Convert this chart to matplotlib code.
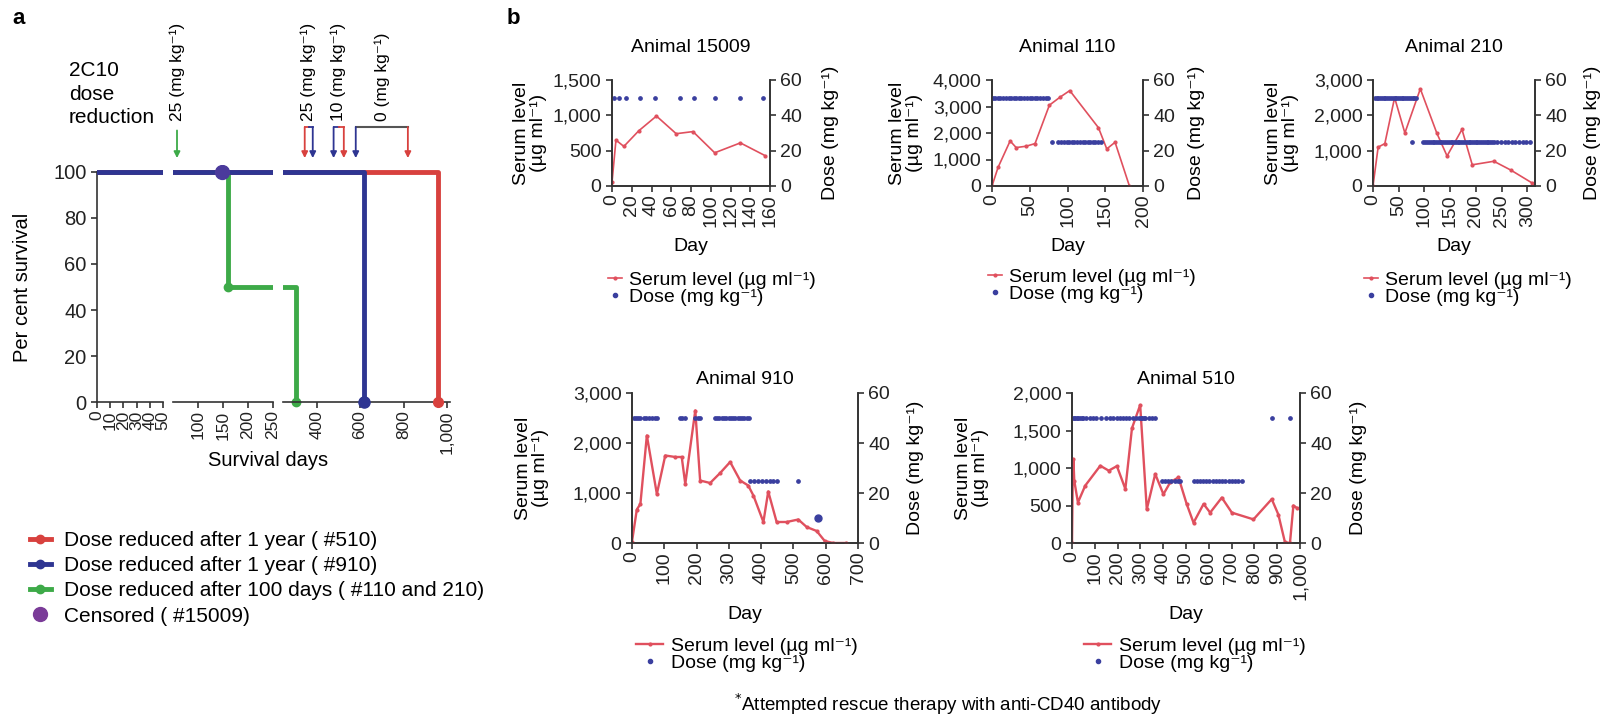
import matplotlib.pyplot as plt
import matplotlib.ticker as mticker
from matplotlib.lines import Line2D

plt.rcParams['font.family'] = ['Liberation Sans', 'DejaVu Sans']
plt.rcParams['font.size'] = 14
plt.rcParams['axes.linewidth'] = 1.2
plt.rcParams['xtick.major.width'] = 1.2
plt.rcParams['ytick.major.width'] = 1.2
plt.rcParams['xtick.major.size'] = 4
plt.rcParams['ytick.major.size'] = 4

RED = '#d8413e'
BLUE = '#2e3592'
GREEN = '#3daa48'
PURPLE = '#7a3b98'
GRAY = '#555555'
SERUM = '#e0505e'
DOSE = '#3a3f9f'
AXC = '#333333'

# ---- panel a: survival (Kaplan-Meier steps) ----
blue_t = [0, 620, 620]
blue_s = [100, 100, 0]
red_t = [0, 958, 958]
red_s = [100, 100, 0]
green_t = [0, 160, 160, 305, 305]
green_s = [100, 100, 50, 50, 0]
green_evt_t = [160, 305]
green_evt_s = [50, 0]
censor_t = [148]
censor_s = [100]

# ---- panel b: serum levels and doses ----
s15009_days = [0, 4, 12, 27, 45, 65, 82, 104, 130, 155]
s15009_vals = [50, 650, 560, 780, 990, 740, 770, 470, 610, 430]
d15009_50 = [2, 7, 14, 28, 44, 69, 83, 104, 130, 153]

s110_days = [0, 8, 24, 32, 45, 57, 76, 90, 103, 141, 152, 163, 182]
s110_vals = [0, 700, 1700, 1450, 1500, 1600, 3050, 3350, 3600, 2200, 1400, 1650, 0]
d110_50 = [1, 4, 8, 11, 15, 18, 22, 25, 29, 32, 36, 39, 43, 46, 50, 53, 57, 60,
           64, 67, 71, 74]
d110_25 = [80, 88, 92, 95, 99, 102, 106, 109, 113, 116, 120, 123, 127, 130, 134,
           137, 141, 144]

s210_days = [0, 10, 23, 42, 62, 92, 124, 144, 173, 193, 235, 268, 310]
s210_vals = [0, 1100, 1200, 2500, 1500, 2750, 1500, 850, 1600, 600, 700, 450, 80]
d210_50 = [3, 7, 10, 14, 17, 21, 24, 28, 31, 35, 38, 42, 45, 49, 52, 56, 59, 63,
           66, 70, 73, 77, 80, 84]
d210_25 = [75, 98, 102, 105, 109, 112, 116, 119, 123, 126, 130, 133, 137, 140,
           144, 147, 151, 154, 158, 161, 165, 168, 172, 175, 179, 182, 186, 189,
           193, 196, 200, 203, 207, 210, 214, 217, 221, 224, 228, 231, 235, 242,
           249, 256, 263, 270, 277, 284, 291, 298, 305]

s910_days = [0, 15, 26, 46, 77, 103, 134, 154, 165, 196, 211, 242, 273, 304, 335,
             360, 376, 407, 422, 448, 479, 515, 541, 572, 597, 623, 664]
s910_vals = [30, 670, 780, 2150, 980, 1750, 1720, 1720, 1180, 2650, 1250, 1200,
             1400, 1620, 1250, 1150, 950, 420, 1030, 420, 420, 470, 320, 240, 40,
             0, 0]
d910_50 = [5, 12, 19, 26, 36, 44, 52, 62, 70, 77, 149, 156, 165, 196, 203, 211,
           257, 264, 271, 278, 285, 292, 299, 306, 313, 320, 327, 334, 341, 348,
           355, 362]
d910_25 = [366, 378, 390, 402, 414, 426, 438, 448, 515]
d910_10 = [577]

s510_days = [0, 3, 6, 10, 26, 58, 124, 161, 197, 234, 263, 299, 328, 365, 401,
             431, 467, 503, 533, 577, 606, 657, 701, 796, 876, 905, 934, 956, 971,
             985]
s510_vals = [0, 820, 1120, 830, 540, 765, 1030, 965, 1025, 720, 1530, 1840, 450,
             920, 650, 810, 875, 520, 270, 520, 405, 605, 405, 315, 585, 380, 10,
             0, 500, 470]
d510_50 = [0, 7, 14, 21, 28, 35, 42, 49, 63, 77, 91, 105, 126, 147, 168, 182,
           196, 210, 224, 238, 252, 266, 280, 294, 301, 308, 315, 322, 336, 350,
           364, 876, 956]
d510_25 = [394, 408, 422, 436, 450, 464, 474, 533, 547, 561, 575, 589, 603, 617,
           631, 645, 659, 673, 687, 701, 715, 729, 745]

W, H = 1605, 718
fig = plt.figure(figsize=(W / 100, H / 100), dpi=100)


def px_axes(x0, y0, x1, y1):
    return fig.add_axes([x0 / W, 1 - y1 / H, (x1 - x0) / W, (y1 - y0) / H])


comma = mticker.FuncFormatter(lambda v, p: f"{int(v):,}")

# panel a, broken x axis in three pieces
segs = [
    (97, 163, (0, 50), [0, 10, 20, 30, 40, 50]),
    (173, 273, (50, 250), [100, 150, 200, 250]),
    (283, 450, (245, 1014), [400, 600, 800, 1000]),
]
seg_axes = []
for i, (x0, x1, xl, ticks) in enumerate(segs):
    ax = px_axes(x0, 165, x1, 409)
    ax.set_xlim(*xl)
    ax.set_ylim(-3, 103)
    ax.patch.set_alpha(0)
    for s in ['top', 'right']:
        ax.spines[s].set_visible(False)
    ax.spines['bottom'].set_position(('data', 0))
    ax.spines['bottom'].set_color(AXC)
    if i == 0:
        ax.spines['left'].set_bounds(0, 100)
        ax.spines['left'].set_color(AXC)
        ax.set_yticks([0, 20, 40, 60, 80, 100])
        ax.set_ylabel('Per cent survival', fontsize=14.5)
        ax.yaxis.set_label_coords((32 - 97) / 66, 0.5)
    else:
        ax.spines['left'].set_visible(False)
        ax.set_yticks([])
    ax.set_xticks(ticks)
    ax.xaxis.set_major_formatter(comma)
    ax.tick_params(axis='x', labelrotation=90, labelsize=12.5, pad=2)
    ax.tick_params(axis='y', labelsize=14.5)
    ax.tick_params(colors=AXC, labelcolor='#222222')

    ax.plot(green_t, green_s, color=GREEN, lw=3.5, zorder=2)
    ax.plot(green_evt_t, green_evt_s, 'o', color=GREEN, ms=6, zorder=2)
    ax.plot(red_t, red_s, color=RED, lw=3.5, zorder=3)
    ax.plot(red_t[-1:], red_s[-1:], 'o', color=RED, ms=7, zorder=3)
    ax.plot(blue_t, blue_s, color=BLUE, lw=3.5, zorder=4)
    ax.plot(blue_t[-1:], blue_s[-1:], 'o', color=BLUE, ms=8, zorder=4)
    ax.plot(censor_t, censor_s, 'o', color='#4b3a9c', ms=10, zorder=5)
    seg_axes.append(ax)

ax_b, ax_c = seg_axes[1], seg_axes[2]
arrow_kw = dict(arrowstyle='-|>', lw=1.3, mutation_scale=9, shrinkA=0, shrinkB=0)
note_kw = dict(rotation=90, ha='center', va='bottom', fontsize=12.5)

ax_b.annotate('', xy=(58, 106), xytext=(58, 118), annotation_clip=False,
              arrowprops=dict(color=GREEN, **arrow_kw))
ax_b.text(58, 122, '25 (mg kg⁻¹)', **note_kw)

brackets = [(345, RED, 382, BLUE, None, '25 (mg kg⁻¹)'),
            (478, BLUE, 525, RED, None, '10 (mg kg⁻¹)'),
            (580, BLUE, 820, RED, GRAY, '0 (mg kg⁻¹)')]
for xa, ca, xb, cb, bar, label in brackets:
    mid = (xa + xb) / 2
    for x, c in [(xa, ca), (xb, cb)]:
        ax_c.annotate('', xy=(x, 106), xytext=(x, 119.5), annotation_clip=False,
                      arrowprops=dict(color=c, **arrow_kw))
    if bar is None:
        ax_c.plot([xa, mid], [119.5, 119.5], color=ca, lw=1.3, clip_on=False)
        ax_c.plot([mid, xb], [119.5, 119.5], color=cb, lw=1.3, clip_on=False)
    else:
        ax_c.plot([xa, xb], [119.5, 119.5], color=bar, lw=1.5, clip_on=False)
    ax_c.text(mid, 122, label, **note_kw)

fig.text(69 / W, 1 - 61 / H, '2C10\ndose\nreduction', ha='left', va='top',
         linespacing=1.3, fontsize=15)
fig.text(268 / W, 1 - 461 / H, 'Survival days', ha='center', va='center',
         fontsize=14.5)
fig.text(12 / W, 1 - 18 / H, 'a', fontsize=16, fontweight='bold', va='center')
fig.text(507 / W, 1 - 18 / H, 'b', fontsize=16, fontweight='bold', va='center')

leg_handles = [Line2D([], [], color=RED, lw=3.5, marker='o', ms=6),
               Line2D([], [], color=BLUE, lw=3.5, marker='o', ms=6),
               Line2D([], [], color=GREEN, lw=3.5, marker='o', ms=6),
               Line2D([], [], color=PURPLE, lw=0, marker='o', ms=10)]
leg_labels = ['Dose reduced after 1 year ( #510)',
              'Dose reduced after 1 year ( #910)',
              'Dose reduced after 100 days ( #110 and 210)',
              'Censored ( #15009)']
fig.legend(leg_handles, leg_labels, loc='upper left',
           bbox_to_anchor=(30 / W, 1 - 531 / H), frameon=False,
           handlelength=1.0, handletextpad=0.65, labelspacing=0.3,
           borderpad=0, borderaxespad=0, fontsize=15)


def animal(rect, title, sd, sv, ytop, ystep, xmax, xticks, doses, rescue,
           title_y, lab_l, lab_r, day_y, leg_x, leg_y, hlen, lw):
    x0, y0, x1, y1 = rect
    ax = px_axes(*rect)
    ax.plot(sd, sv, color=SERUM, lw=lw, marker='.', ms=4, zorder=3)
    ax.set_xlim(0, xmax)
    ax.set_ylim(0, ytop)
    ax.set_yticks(range(0, ytop + 1, ystep))
    ax.yaxis.set_major_formatter(comma)
    ax.set_xticks(xticks)
    ax.xaxis.set_major_formatter(comma)
    ax.tick_params(axis='x', labelrotation=90, pad=2)
    ax.spines['top'].set_visible(False)
    ax.set_ylabel('Serum level\n(µg ml⁻¹)', linespacing=1.0)
    ax.yaxis.set_label_coords((lab_l - x0) / (x1 - x0), 0.5)
    ax.set_xlabel('Day')
    ax.xaxis.set_label_coords(0.5, -(day_y - y1) / (y1 - y0))
    ax.text(0.5, (y1 - title_y) / (y1 - y0), title, transform=ax.transAxes,
            ha='center', va='center')

    ax2 = ax.twinx()
    ax2.set_ylim(0, 60)
    ax2.set_yticks([0, 20, 40, 60])
    ax2.spines['top'].set_visible(False)
    for days, level in doses:
        ax2.plot(days, [level] * len(days), ls='none', marker='o', ms=2.4,
                 color=DOSE)
    if rescue:
        ax2.plot(rescue, [10] * len(rescue), ls='none', marker='o', ms=5,
                 color=DOSE)
    ax2.set_ylabel('Dose (mg kg⁻¹)')
    ax2.yaxis.set_label_coords((lab_r - x0) / (x1 - x0), 0.5)
    for a in (ax, ax2):
        for s in a.spines.values():
            s.set_color(AXC)
        a.tick_params(colors=AXC, labelcolor='#222222')

    handles = [Line2D([], [], color=SERUM, lw=lw, marker='.', ms=4),
               Line2D([], [], color=DOSE, ls='none', marker='o', ms=3)]
    fig.legend(handles, ['Serum level (µg ml⁻¹)', 'Dose (mg kg⁻¹)'],
               loc='upper left', bbox_to_anchor=(leg_x / W, 1 - leg_y / H),
               frameon=False, handlelength=hlen, handletextpad=0.4,
               labelspacing=0.0, borderpad=0, borderaxespad=0, fontsize=14)


animal((612, 80, 770, 186), 'Animal 15009', s15009_days, s15009_vals, 1500, 500,
       160, list(range(0, 161, 20)), [(d15009_50, 50)], None,
       47, 547, 822, 238, 608, 271, 0.7, 1.2)
animal((992, 80, 1143, 186), 'Animal 110', s110_days, s110_vals, 4000, 1000,
       200, [0, 50, 100, 150, 200], [(d110_50, 50), (d110_25, 25)], None,
       47, 923, 1188, 238, 988, 268, 0.7, 1.2)
animal((1373, 80, 1535, 186), 'Animal 210', s210_days, s210_vals, 3000, 1000,
       315, [0, 50, 100, 150, 200, 250, 300], [(d210_50, 50), (d210_25, 25)],
       None, 48, 1299, 1584, 238, 1364, 271, 0.7, 1.2)
animal((632, 393, 858, 543), 'Animal 910', s910_days, s910_vals, 3000, 1000,
       700, list(range(0, 701, 100)), [(d910_50, 50), (d910_25, 25)], d910_10,
       380, 549, 907, 606, 636, 637, 1.4, 1.7)
animal((1072, 393, 1300, 543), 'Animal 510', s510_days, s510_vals, 2000, 500,
       1000, list(range(0, 1001, 100)), [(d510_50, 50), (d510_25, 25)], None,
       379, 989, 1350, 606, 1084, 637, 1.4, 1.7)

fig.text(948 / W, 1 - 704 / H, '$^{*}$Attempted rescue therapy with anti-CD40 antibody',
         ha='center', va='center', fontsize=13.5)

fig.savefig('out.png', dpi=100, facecolor='white')
